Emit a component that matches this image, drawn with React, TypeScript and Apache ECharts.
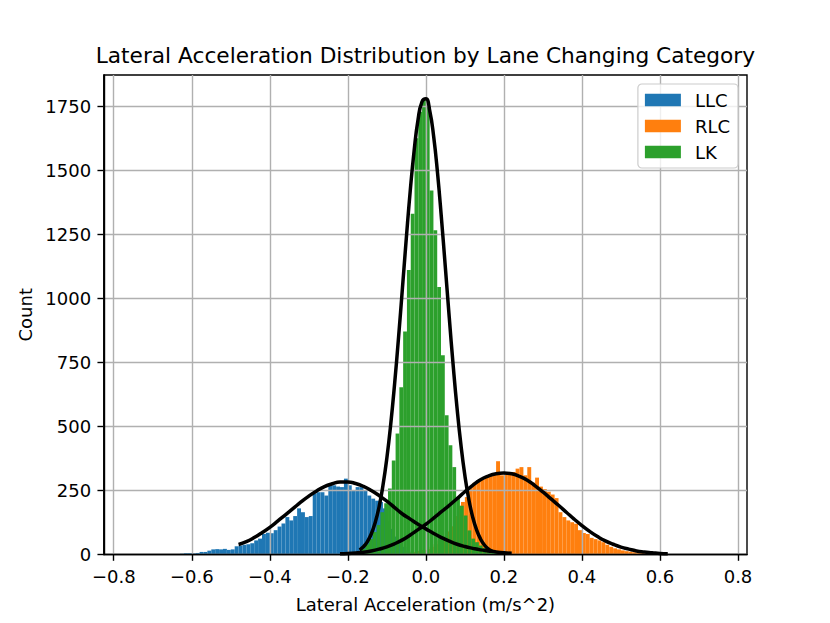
import React, { useEffect, useRef } from "react";
import * as echarts from "echarts";

// ---------- data ----------
const llcBinStart = -0.75;
const llcBinWidth = 0.01;
const llcCounts = [
  1, 0, 1, 0, 1, 1, 1, 0, 1, 1, 2, 2, 3, 5, 5, 4, 6, 10, 10, 15, 20, 21, 20, 22, 18,
  20, 32, 35, 38, 40, 44, 55, 62, 80, 85, 83, 95, 109, 121, 146, 133, 150, 180, 165, 146,
  150, 238, 243, 243, 230, 270, 270, 265, 263, 296, 270, 250, 263, 263, 250, 230, 218, 210, 205, 180,
  130, 100, 70, 50, 30, 15, 8, 4, 2,
];

const rlcBinStart = -0.05;
const rlcBinWidth = 0.01;
const rlcCounts = [
  5, 8, 10, 14, 18, 22, 30, 40, 55, 70, 90, 110, 150, 190, 205, 224, 263, 280, 290, 297,
  302, 309, 310, 364, 309, 312, 315, 322, 335, 341, 309, 341, 280, 300, 265, 255, 245, 234, 220, 165,
  146, 133, 126, 120, 95, 84, 80, 65, 60, 55, 48, 38, 30, 24, 20, 16, 13, 11, 9, 8,
  6, 5, 4, 3, 2, 2, 1, 1, 0, 1, 0, 0, 1, 0, 0, 1, 0, 0, 0, 1,
];

const lkBinWidth = 0.0097;
const lkBinStart = -21 * 0.0097;
const lkCounts = [
  2, 4, 7, 12, 22, 40, 60, 88, 115, 165, 200, 258, 367, 472, 653, 870, 1110, 1330, 1624, 1728,
  1773, 1750, 1420, 1265, 1044, 777, 543, 426, 341, 224, 190, 152, 94, 62, 48, 35, 25, 20, 14, 8,
  5, 3,
];

const llcFitX = [
  -0.48, -0.46, -0.44, -0.42, -0.4, -0.38, -0.36, -0.34, -0.32, -0.3, -0.28, -0.26, -0.24, -0.22,
  -0.2, -0.18, -0.16, -0.14, -0.12, -0.1, -0.08, -0.06, -0.04, -0.02, 0.0, 0.02, 0.04, 0.06, 0.08,
  0.1, 0.12, 0.14, 0.16, 0.18, 0.2, 0.22,
];
const llcFitY = [
  39, 50, 66, 85, 106, 130, 155, 180, 205, 228, 248, 265, 276, 283, 283, 277, 266, 250, 230, 208,
  183, 158, 138, 118, 100, 82, 66, 52, 40, 31, 24, 18, 14, 10, 7, 5,
];

const rlcFitX = [
  -0.22, -0.2, -0.18, -0.16, -0.14, -0.12, -0.1, -0.08, -0.06, -0.04, -0.02, 0.0, 0.02, 0.04, 0.06,
  0.08, 0.1, 0.12, 0.14, 0.16, 0.18, 0.2, 0.22, 0.24, 0.26, 0.28, 0.3, 0.32, 0.34, 0.36, 0.38, 0.4,
  0.42, 0.44, 0.46, 0.48, 0.5, 0.52, 0.54, 0.56, 0.58, 0.6, 0.62,
];
const rlcFitY = [
  3, 4, 6, 9, 14, 21, 30, 42, 57, 76, 97, 118, 142, 167, 192, 218, 245, 270, 292, 306, 315, 318,
  315, 305, 290, 268, 244, 218, 192, 165, 138, 113, 90, 70, 53, 40, 29, 21, 14, 10, 7, 4, 3,
];

const lkFitX = [
  -0.17, -0.16, -0.15, -0.14, -0.13, -0.12, -0.11, -0.1, -0.09, -0.08, -0.07, -0.06, -0.05, -0.04,
  -0.03, -0.02, -0.01, 0.0, 0.01, 0.02, 0.03, 0.04, 0.05, 0.06, 0.07, 0.08, 0.09, 0.1, 0.11, 0.12,
  0.13, 0.14, 0.15, 0.16, 0.17,
];
const lkFitY = [
  18, 30, 50, 80, 124, 185, 269, 376, 509, 668, 847, 1040, 1236, 1420, 1577, 1697, 1766, 1778, 1731,
  1631, 1487, 1311, 1119, 924, 738, 570, 426, 308, 216, 146, 96, 61, 37, 22, 13,
];

const xTicks = [-0.8, -0.6, -0.4, -0.2, 0, 0.2, 0.4, 0.6, 0.8];
const xTickLabels = ["−0.8", "−0.6", "−0.4", "−0.2", "0.0", "0.2", "0.4", "0.6", "0.8"];
const yTicks = [0, 250, 500, 750, 1000, 1250, 1500, 1750];
const yTickLabels = ["0", "250", "500", "750", "1000", "1250", "1500", "1750"];

const seriesNames = ["LLC", "RLC", "LK"];
const seriesColors = ["#1f77b4", "#ff7f0e", "#2ca02c"];

const titleText = "Lateral Acceleration Distribution by Lane Changing Category";
const xLabel = "Lateral Acceleration (m/s^2)";
const yLabel = "Count";

// ---------- chart ----------
const FONT = "'DejaVu Sans', 'Liberation Sans', sans-serif";
const X_MIN = -0.8256;
const X_MAX = 0.8231;
const Y_MAX = 1871;

function histSeries(name: string, color: string, start: number, width: number, counts: number[]) {
  const data = counts.map((c, i) => [start + i * width, start + (i + 1) * width, c]);
  return {
    type: "custom",
    name,
    z: 2,
    coordinateSystem: "cartesian2d",
    xAxisIndex: 0,
    yAxisIndex: 0,
    silent: true,
    itemStyle: { color },
    encode: { x: [0, 1], y: 2 },
    renderItem: (_params: any, api: any) => {
      const p0 = api.coord([api.value(0), 0]);
      const p1 = api.coord([api.value(1), api.value(2)]);
      return {
        type: "rect",
        shape: { x: p0[0], y: p1[1], width: p1[0] - p0[0], height: p0[1] - p1[1] },
        style: { fill: color },
      };
    },
    data,
  };
}

function fitSeries(name: string, xs: number[], ys: number[]) {
  return {
    type: "line",
    name,
    z: 5,
    xAxisIndex: 0,
    yAxisIndex: 0,
    silent: true,
    showSymbol: false,
    symbol: "none",
    smooth: true,
    lineStyle: { color: "#000", width: 3.5 },
    data: xs.map((x, i) => [x, ys[i]]),
  };
}

function labelFor(ticks: number[], labels: string[], v: number) {
  const i = ticks.findIndex((t) => Math.abs(t - v) < 1e-9);
  return i >= 0 ? labels[i] : "";
}

export default function App() {
  const ref = useRef<HTMLDivElement>(null);
  useEffect(() => {
    if (!ref.current) return;
    const chart = echarts.init(ref.current, undefined, { renderer: "svg" });
    const axisLineStyle = { color: "#000", width: 1.4 };
    const gridLine = { show: true, lineStyle: { color: "#b0b0b0", width: 1.4 } };
    const tickFont = { fontSize: 18, color: "#000", fontFamily: FONT };
    const option: any = {
      animation: false,
      backgroundColor: "#ffffff",
      textStyle: { fontFamily: FONT },
      grid: {
        left: 103.75,
        right: 83,
        top: 75,
        bottom: 68.5,
        containLabel: false,
        outerBoundsMode: "none",
        show: true,
        borderColor: "#000",
        borderWidth: 1.4,
        backgroundColor: "transparent",
      },
      xAxis: {
        type: "value",
        min: X_MIN,
        max: X_MAX,
        position: "bottom",
        z: 3,
        axisLine: { show: true, onZero: false, lineStyle: axisLineStyle },
        axisTick: { show: true, length: 6.3, lineStyle: axisLineStyle, customValues: xTicks },
        axisLabel: {
          ...tickFont,
          margin: 12.6,
          customValues: xTicks,
          formatter: (v: number) => labelFor(xTicks, xTickLabels, v),
        },
        splitLine: gridLine,
        name: xLabel,
        nameLocation: "middle",
        nameGap: 41,
        nameTextStyle: { ...tickFont },
      },
      yAxis: {
        type: "value",
        min: 0,
        max: Y_MAX,
        position: "left",
        z: 3,
        axisLine: { show: true, onZero: false, lineStyle: axisLineStyle },
        axisTick: { show: true, length: 6.3, lineStyle: axisLineStyle, customValues: yTicks },
        axisLabel: {
          ...tickFont,
          margin: 12.6,
          customValues: yTicks,
          formatter: (v: number) => labelFor(yTicks, yTickLabels, v),
        },
        splitLine: gridLine,
        name: yLabel,
        nameLocation: "middle",
        nameGap: 66,
        nameRotate: 90,
        nameTextStyle: { ...tickFont },
      },
      legend: {
        orient: "vertical",
        right: 92,
        top: 84,
        z: 10,
        selectedMode: false,
        data: seriesNames.map((n) => ({ name: n, icon: "rect" })),
        itemWidth: 36,
        itemHeight: 12.6,
        itemGap: 8,
        padding: [7, 8, 7, 7],
        borderColor: "#cccccc",
        borderWidth: 1.2,
        borderRadius: 4,
        backgroundColor: "rgba(255,255,255,0.8)",
        textStyle: { fontSize: 18, color: "#000", fontFamily: FONT, padding: [0, 0, 0, 9] },
      },
      graphic: [
        {
          type: "text",
          x: 425.4,
          y: 55,
          z: 10,
          style: {
            text: titleText,
            fill: "#000",
            fontSize: 21.7,
            fontFamily: FONT,
            align: "center",
            verticalAlign: "middle",
          },
        },
      ],
      series: [
        histSeries(seriesNames[0], seriesColors[0], llcBinStart, llcBinWidth, llcCounts),
        histSeries(seriesNames[1], seriesColors[1], rlcBinStart, rlcBinWidth, rlcCounts),
        histSeries(seriesNames[2], seriesColors[2], lkBinStart, lkBinWidth, lkCounts),
        fitSeries("LLC fit", llcFitX, llcFitY),
        fitSeries("RLC fit", rlcFitX, rlcFitY),
        fitSeries("LK fit", lkFitX, lkFitY),
      ],
    };
    chart.setOption(option);
    return () => chart.dispose();
  }, []);
  return (
    <div
      ref={ref}
      style={{ position: "fixed", left: 0, top: 0, width: 830, height: 623, background: "#fff" }}
    />
  );
}
